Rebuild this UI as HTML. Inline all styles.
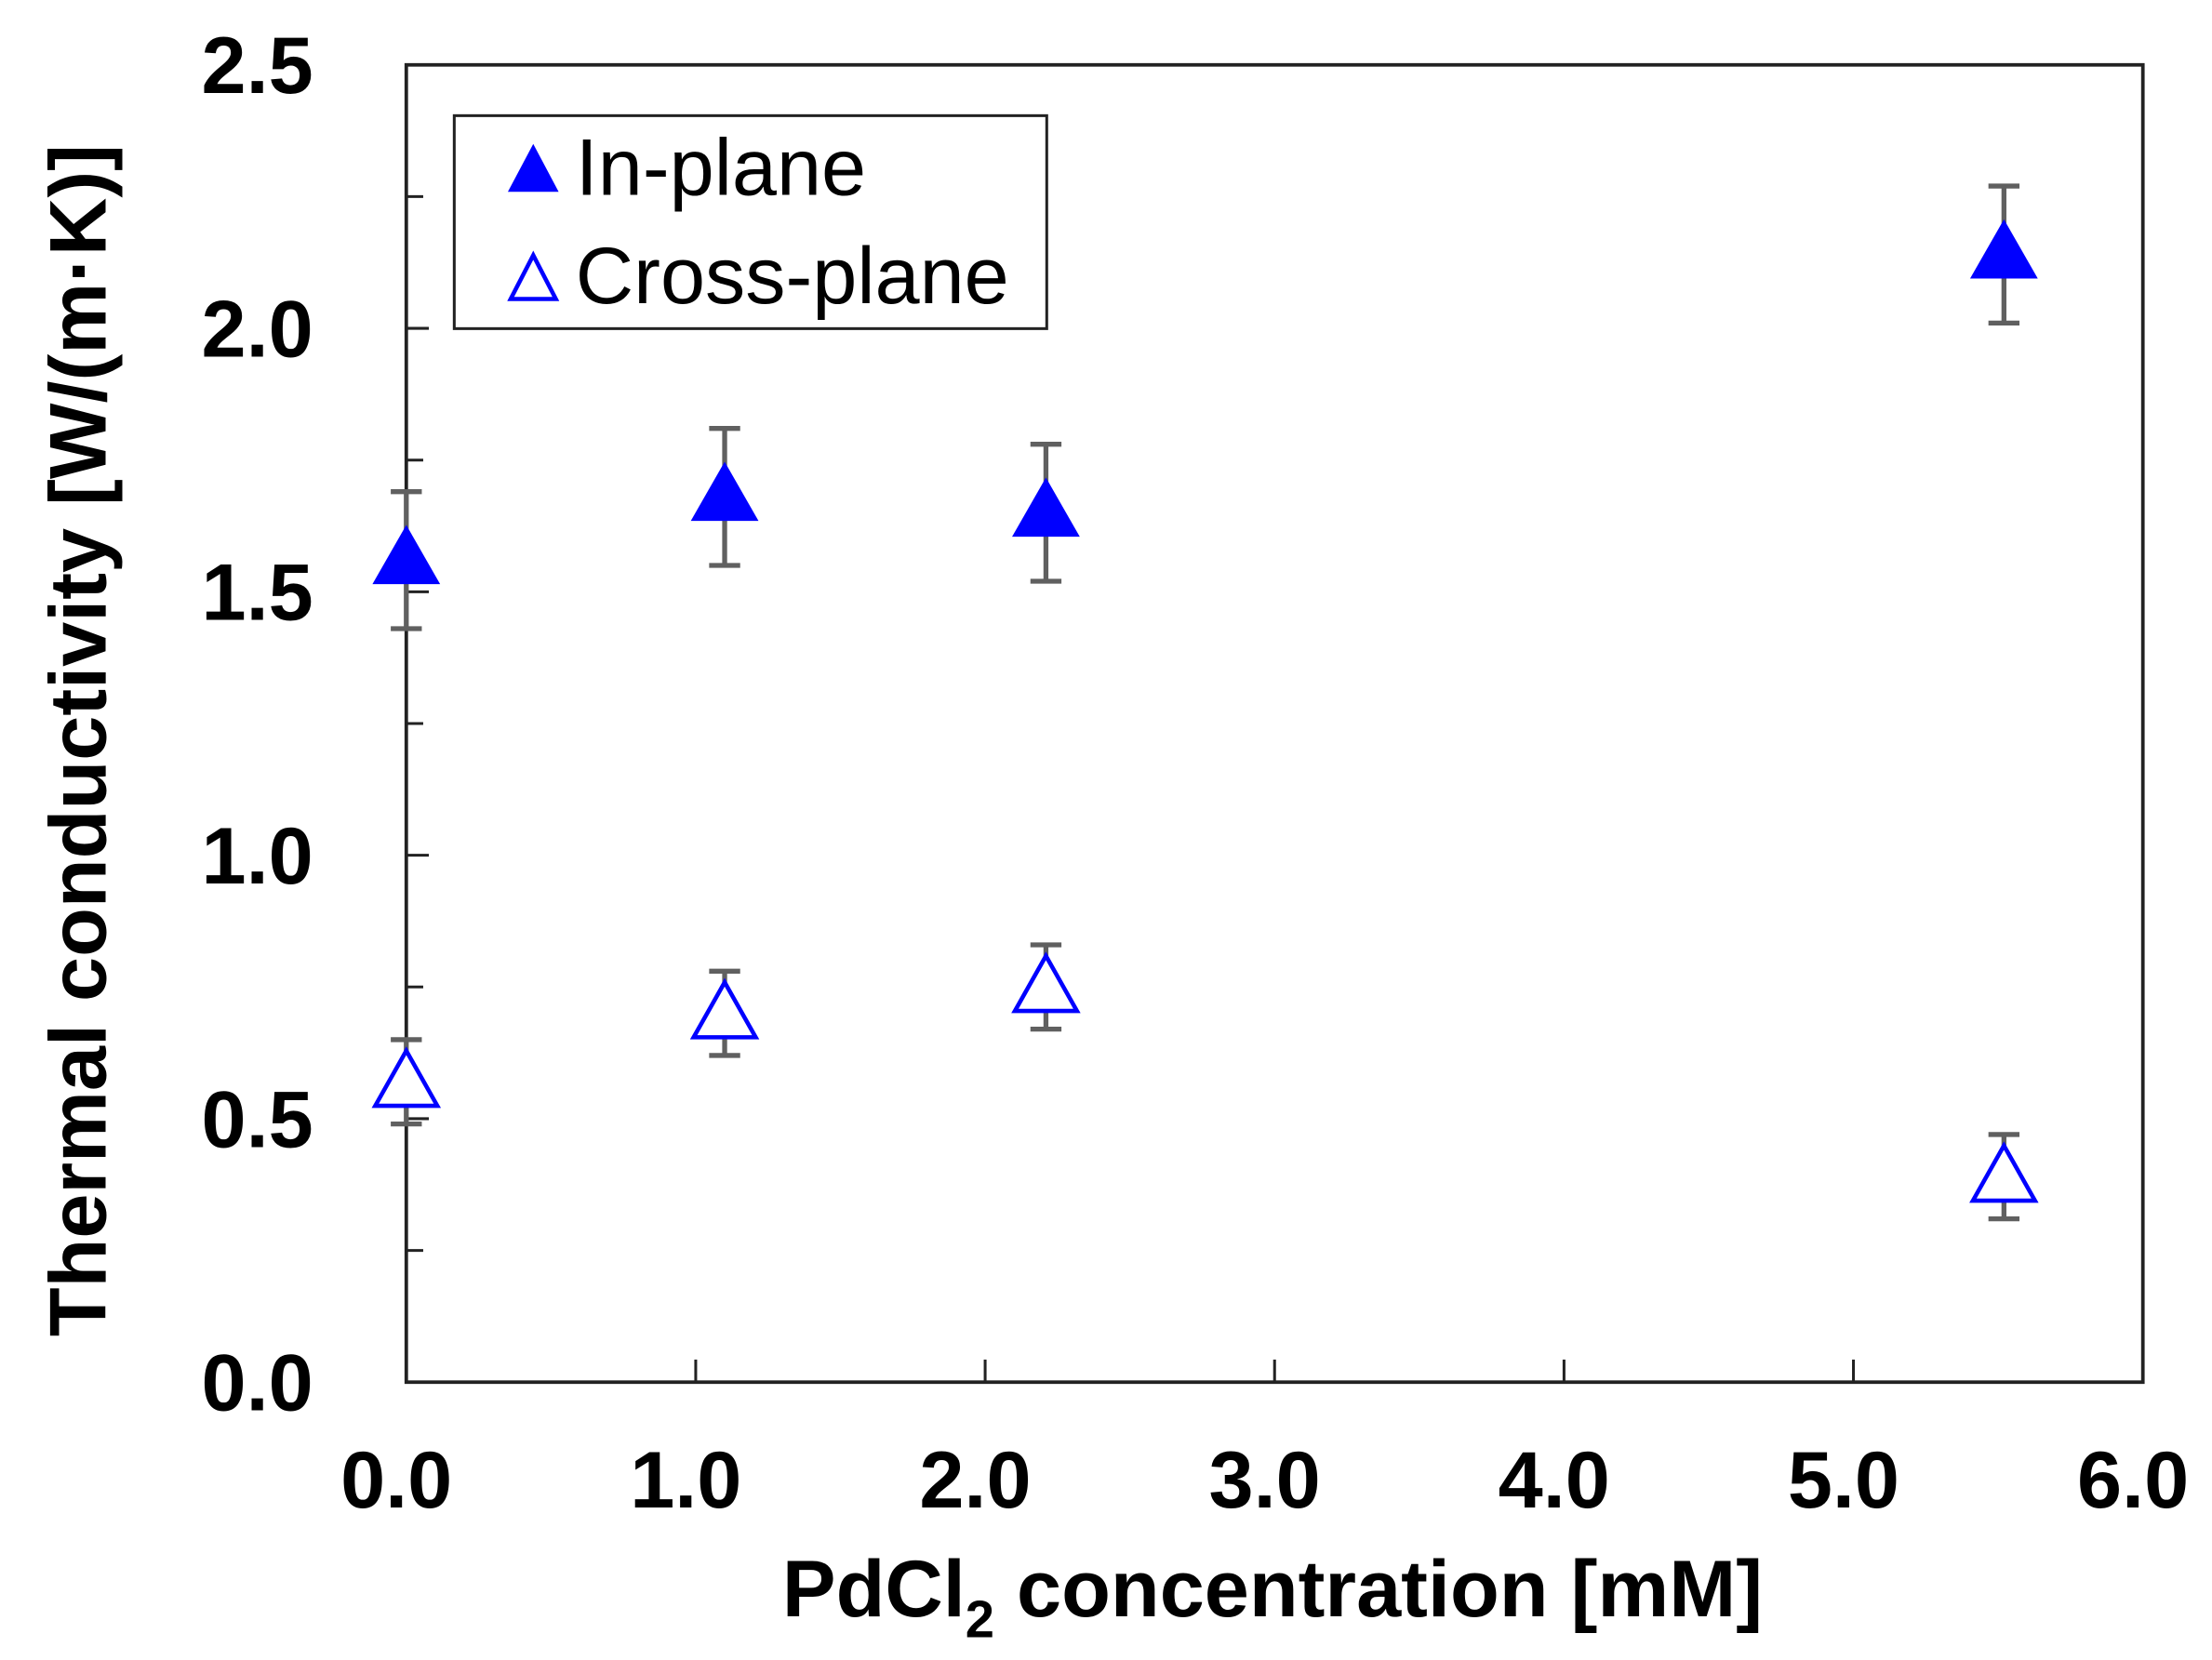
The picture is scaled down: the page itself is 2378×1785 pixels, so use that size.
<!DOCTYPE html>
<html><head><meta charset="utf-8">
<style>
html,body{margin:0;padding:0;background:#fff;}
svg{display:block;}
text{font-family:"Liberation Sans",Arial,sans-serif;}
</style></head>
<body>
<svg id="chart" width="2378" height="1785" viewBox="0 0 1568 1177" preserveAspectRatio="none" xmlns="http://www.w3.org/2000/svg">
<rect x="288" y="46" width="1231" height="934" fill="#fff" stroke="#222" stroke-width="2.5"/>
<g id="axes"></g>
<g id="series"></g>
<text x="902" y="1146" font-size="57" font-weight="bold" text-anchor="middle">PdCl<tspan font-size="37" dy="15">2</tspan><tspan dy="-15"> concentration [mM]</tspan></text>
<text transform="translate(75,525) rotate(-90)" font-size="57" font-weight="bold" text-anchor="middle">Thermal conductivity [W/(m·K)]</text>
<g>
<rect x="322" y="82" width="420" height="151" fill="#fff" stroke="#222" stroke-width="2"/>
<polygon points="378,102 360,136 396,136" fill="#0000ff"/>
<text x="408" y="138" font-size="57">In-plane</text>
<polygon points="378,181 362,212 394,212" fill="none" stroke="#0000ff" stroke-width="3"/>
<text x="408" y="215" font-size="57">Cross-plane</text>
</g>
</svg>
<script>
const xValues = [0.0, 1.1, 2.21, 5.52];
const inPlane = [1.56, 1.68, 1.65, 2.14];
const inPlaneErr = [0.13, 0.13, 0.13, 0.13];
const crossPlane = [0.57, 0.70, 0.75, 0.39];
const crossPlaneErr = [0.08, 0.08, 0.08, 0.08];
const xTicks = ["0.0","1.0","2.0","3.0","4.0","5.0","6.0"];
const yTicks = ["0.0","0.5","1.0","1.5","2.0","2.5"];

const NS = "http://www.w3.org/2000/svg";
const X0 = 288, X1 = 1519, Y0 = 980, Y1 = 46;
const xs = v => X0 + (v / 6) * (X1 - X0);
const ys = v => Y0 - (v / 2.5) * (Y0 - Y1);
function mk(tag, attrs, parent) {
  const e = document.createElementNS(NS, tag);
  for (const k in attrs) e.setAttribute(k, attrs[k]);
  parent.appendChild(e);
  return e;
}
const axes = document.getElementById('axes');
xTicks.forEach((t) => {
  const v = parseFloat(t);
  const x = xs(v);
  if (v > 0 && v < 6) {
    const l = mk('line', {x1: x, x2: x, y1: Y0, y2: Y0 - 16, stroke: '#222', 'stroke-width': 2}, axes);
    
    
  }
  const tx = mk('text', {x: x - 7, y: 1069, 'font-size': 57, 'font-weight': 'bold', 'text-anchor': 'middle'}, axes);
  tx.textContent = t;
  
  
});
for (let i = 1; i < 10; i++) {
  const v = i * 0.25;
  const y = ys(v);
  const l = mk('line', {x1: X0, x2: X0 + (i % 2 === 0 ? 16 : 12), y1: y, y2: y, stroke: '#222', 'stroke-width': 2}, axes);
  
  
}
yTicks.forEach((t) => {
  const y = ys(parseFloat(t));
  const tx = mk('text', {x: 222, y: y + 20, 'font-size': 57, 'font-weight': 'bold', 'text-anchor': 'end'}, axes);
  tx.textContent = t;
  
  
});
const series = document.getElementById('series');
function errbar(x, v, e) {
  const g = mk('g', {stroke: '#606060', 'stroke-width': 3.5}, series);
  
  
  const cx = xs(x), yt = ys(v + e), yb = ys(v - e);
  mk('line', {x1: cx, x2: cx, y1: yt, y2: yb}, g);
  mk('line', {x1: cx - 11, x2: cx + 11, y1: yt, y2: yt}, g);
  mk('line', {x1: cx - 11, x2: cx + 11, y1: yb, y2: yb}, g);
}
xValues.forEach((x, i) => {
  errbar(x, inPlane[i], inPlaneErr[i]);
  errbar(x, crossPlane[i], crossPlaneErr[i]);
});
xValues.forEach((x, i) => {
  const cx = xs(x), cy = ys(inPlane[i]);
  const p = mk('polygon', {points: `${cx},${cy - 25} ${cx - 24},${cy + 17} ${cx + 24},${cy + 17}`, fill: '#0000ff'}, series);
  
  
  const cy2 = ys(crossPlane[i]);
  const q = mk('polygon', {points: `${cx},${cy2 - 22} ${cx - 22},${cy2 + 17} ${cx + 22},${cy2 + 17}`, fill: '#fff', stroke: '#0000ff', 'stroke-width': 3}, series);
  
  
});
</script>
</body></html>
